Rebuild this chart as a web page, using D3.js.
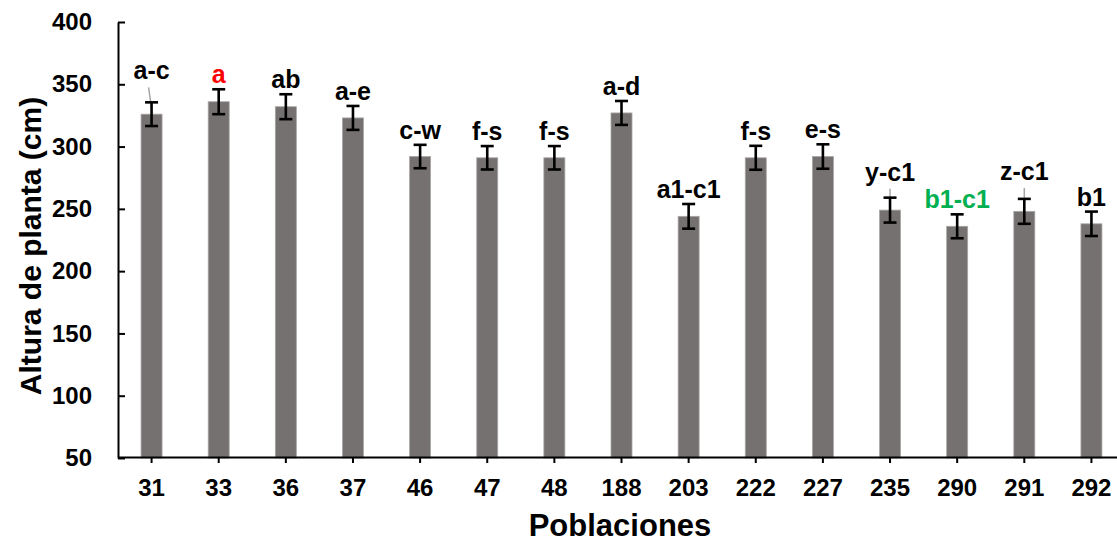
<!DOCTYPE html>
<html lang="es">
<head>
<meta charset="UTF-8">
<title>Altura de planta</title>
<style>
  body { margin: 0; background: #fff; }
  svg text { font-family: "Liberation Sans", Arial, sans-serif; font-weight: bold; }
  .axis path, .axis line { stroke: #000; stroke-width: 2; fill: none; }
  .axis text { font-size: 24px; fill: #000; }
</style>
</head>
<body>
<script src="https://cdn.jsdelivr.net/npm/d3@7"></script>
<script>
// data
var poblaciones = ["31","33","36","37","46","47","48","188","203","222","227","235","290","291","292"];
var altura      = [326, 336, 332, 323, 292, 291, 291, 327, 244, 291, 292, 249, 236, 248, 238];
var errorEst    = [9.5, 10, 10, 9.6, 9.4, 9.4, 9.4, 9.6, 9.9, 9.6, 9.8, 10, 9.6, 10, 9.8];
var letras      = ["a-c","a","ab","a-e","c-w","f-s","f-s","a-d","a1-c1","f-s","e-s","y-c1","b1-c1","z-c1","b1"];
var yTicks      = [50, 100, 150, 200, 250, 300, 350, 400];

// layout
var width = 1117, height = 544;
var mLeft = 118, mRight = 1125, mTop = 22, mBottom = 458;
var letraColor = { "a": "#ff0000", "b1-c1": "#00b050" };
// labels that sit higher than the rest, with a grey leader line (extra px, leader x shift)
var letraAlta = { "31": [17, -3], "235": [11, 0], "291": [13, 0] };

var svg = d3.select("body").append("svg")
    .attr("width", width).attr("height", height);

var x = d3.scaleBand().domain(poblaciones).range([mLeft, mRight]);
var y = d3.scaleLinear().domain([50, 400]).range([mBottom, mTop]);
var barW = 21;

var datos = poblaciones.map(function(p, i) {
  return { p: p, v: altura[i], e: errorEst[i], l: letras[i] };
});
function cx(d) { return x(d.p) + x.bandwidth() / 2; }

// bars
svg.append("g").selectAll("rect").data(datos).join("rect")
    .attr("x", function(d) { return cx(d) - barW / 2; })
    .attr("y", function(d) { return y(d.v); })
    .attr("width", barW)
    .attr("height", function(d) { return y(50) - y(d.v); })
    .attr("fill", "#767171")
    .attr("stroke", "#a9a6a6")
    .attr("stroke-width", 0.8);

// leader lines
svg.append("g").selectAll("line").data(datos.filter(function(d) { return letraAlta[d.p]; })).join("line")
    .attr("x1", function(d) { return cx(d) + letraAlta[d.p][1]; })
    .attr("x2", function(d) { return cx(d); })
    .attr("y1", function(d) { return y(d.v + d.e) - 6 - letraAlta[d.p][0] + 8; })
    .attr("y2", function(d) { return y(d.v + d.e) + 6; })
    .attr("stroke", "#a6a6a6").attr("stroke-width", 1.5);

// error bars
var eb = svg.append("g").attr("stroke", "#000").attr("stroke-width", 2.6);
eb.selectAll(".v").data(datos).join("line").attr("class", "v")
    .attr("x1", cx).attr("x2", cx)
    .attr("y1", function(d) { return y(d.v + d.e); })
    .attr("y2", function(d) { return y(d.v - d.e); });
eb.selectAll(".t").data(datos).join("line").attr("class", "t")
    .attr("x1", function(d) { return cx(d) - 6.5; }).attr("x2", function(d) { return cx(d) + 6.5; })
    .attr("y1", function(d) { return y(d.v + d.e); }).attr("y2", function(d) { return y(d.v + d.e); });
eb.selectAll(".b").data(datos).join("line").attr("class", "b")
    .attr("x1", function(d) { return cx(d) - 6.5; }).attr("x2", function(d) { return cx(d) + 6.5; })
    .attr("y1", function(d) { return y(d.v - d.e); }).attr("y2", function(d) { return y(d.v - d.e); });

// letters
svg.append("g").selectAll("text").data(datos).join("text")
    .attr("x", cx)
    .attr("y", function(d) { return y(d.v + d.e) - 6 - (letraAlta[d.p] ? letraAlta[d.p][0] : 0); })
    .attr("text-anchor", "middle")
    .attr("font-size", 25)
    .attr("fill", function(d) { return letraColor[d.l] || "#000"; })
    .text(function(d) { return d.l; });

// axes
svg.append("g").attr("class", "axis")
    .attr("transform", "translate(" + mLeft + ",0)")
    .call(d3.axisLeft(y).tickValues(yTicks).tickSizeInner(-7).tickSizeOuter(0).tickPadding(26));

svg.append("g").attr("class", "axis")
    .attr("transform", "translate(0," + (mBottom - 1) + ")")
    .call(d3.axisBottom(x).tickSizeInner(6).tickSizeOuter(0).tickPadding(16));

// titles
svg.append("text")
    .attr("x", 620).attr("y", 536)
    .attr("text-anchor", "middle").attr("font-size", 31)
    .text("Poblaciones");

svg.append("text")
    .attr("transform", "translate(41,246) rotate(-90)")
    .attr("text-anchor", "middle").attr("font-size", 30)
    .text("Altura de planta (cm)");
</script>
</body>
</html>
